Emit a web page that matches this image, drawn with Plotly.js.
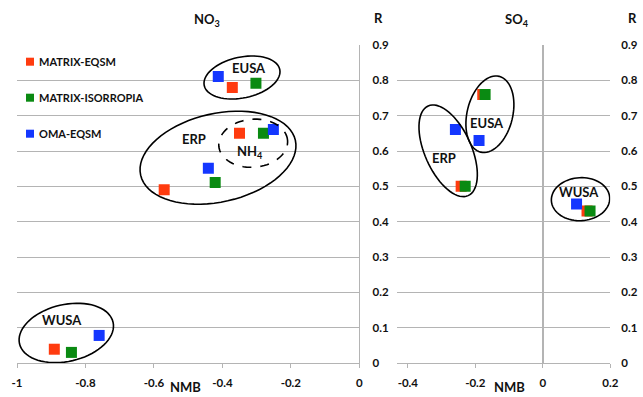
<!DOCTYPE html>
<html><head><meta charset="utf-8">
<script src="https://cdn.plot.ly/plotly-3.0.1.min.js"></script>
<style>html,body{margin:0;padding:0;background:#fff}#chart{width:643px;height:397px}</style>
</head><body><div id="chart"></div>
<script>
// ---- data ----
const seriesNames = ['MATRIX-EQSM', 'MATRIX-ISORROPIA', 'OMA-EQSM'];
const seriesColors = ['#ff3b0f', '#0a8a12', '#1437ff'];

const no3Groups = ['EUSA', 'ERP', 'NH4', 'WUSA'];
const no3NMB_matrixEqsm = [-0.371, -0.570, -0.350, -0.891];
const no3R_matrixEqsm   = [0.780, 0.490, 0.650, 0.039];
const no3NMB_matrixIso  = [-0.302, -0.421, -0.280, -0.841];
const no3R_matrixIso    = [0.792, 0.511, 0.650, 0.030];
const no3NMB_omaEqsm    = [-0.412, -0.441, -0.251, -0.760];
const no3R_omaEqsm      = [0.811, 0.551, 0.661, 0.078];

const so4Groups = ['EUSA', 'ERP', 'WUSA'];
const so4NMB_matrixEqsm = [-0.178, -0.242, 0.131];
const so4R_matrixEqsm   = [0.760, 0.500, 0.430];
const so4NMB_matrixIso  = [-0.171, -0.230, 0.140];
const so4R_matrixIso    = [0.760, 0.500, 0.430];
const so4NMB_omaEqsm    = [-0.189, -0.259, 0.100];
const so4R_omaEqsm      = [0.630, 0.661, 0.450];

const xTicksNO3 = [-1, -0.8, -0.6, -0.4, -0.2, 0];
const xTicksSO4 = [-0.4, -0.2, 0, 0.2];
const yTicks = [0, 0.1, 0.2, 0.3, 0.4, 0.5, 0.6, 0.7, 0.8, 0.9];

// ---- layout geometry ----
const W = 643, H = 397;
const xDom1 = [17 / W, 359.3 / W];
const xDom2 = [396.7 / W, 610.3 / W];
const yDom = [1 - 363 / H, 1 - 45 / H];
const xRange1 = [-1, 0];
const xRange2 = [-0.433, 0.2];
const yRange = [0, 0.9];

const FONT = 'Lato, "Open Sans", sans-serif';
const gridCol = '#b4b4b4';

const no3X = [no3NMB_matrixEqsm, no3NMB_matrixIso, no3NMB_omaEqsm];
const no3Y = [no3R_matrixEqsm, no3R_matrixIso, no3R_omaEqsm];
const so4X = [so4NMB_matrixEqsm, so4NMB_matrixIso, so4NMB_omaEqsm];
const so4Y = [so4R_matrixEqsm, so4R_matrixIso, so4R_omaEqsm];

const traces = [];
for (let i = 0; i < 3; i++) {
  traces.push({
    type: 'scatter', mode: 'markers', name: seriesNames[i],
    x: no3X[i], y: no3Y[i], text: no3Groups, xaxis: 'x', yaxis: 'y',
    legendgroup: 'g' + i, showlegend: false,
    marker: {symbol: 'square', size: 11, color: seriesColors[i], line: {width: 0}},
    hovertemplate: '%{text}<br>NMB %{x}<br>R %{y}<extra>' + seriesNames[i] + '</extra>'
  });
}
for (let i = 0; i < 3; i++) {
  traces.push({
    type: 'scatter', mode: 'markers', name: seriesNames[i],
    x: so4X[i], y: so4Y[i], text: so4Groups, xaxis: 'x2', yaxis: 'y2',
    legendgroup: 'g' + i, showlegend: false,
    marker: {symbol: 'square', size: 11, color: seriesColors[i], line: {width: 0}},
    hovertemplate: '%{text}<br>NMB %{x}<br>R %{y}<extra>' + seriesNames[i] + '</extra>'
  });
}

// ellipses: center in data units, semi-axes in px, angle in degrees (visual, CCW)
const pxPerX1 = (xDom1[1] - xDom1[0]) * W / (xRange1[1] - xRange1[0]);
const pxPerX2 = (xDom2[1] - xDom2[0]) * W / (xRange2[1] - xRange2[0]);
const pxPerY = (yDom[1] - yDom[0]) * H / (yRange[1] - yRange[0]);

const ellipses = [
  {ax: 'x', cx: -0.3427, cy: 0.808, a: 38.6, b: 20.4, ang: 12, dash: 'solid'},
  {ax: 'x', cx: -0.4128, cy: 0.581, a: 79.3, b: 44.2, ang: 12.7, dash: 'solid'},
  {ax: 'x', cx: -0.310, cy: 0.622, a: 34.5, b: 24, ang: 5, dash: 'dash'},
  {ax: 'x', cx: -0.856, cy: 0.085, a: 48, b: 28.4, ang: 13, dash: 'solid'},
  {ax: 'x2', cx: -0.2805, cy: 0.6006, a: 49.1, b: 23.3, ang: 114, dash: 'solid'},
  {ax: 'x2', cx: -0.1568, cy: 0.704, a: 39, b: 22.8, ang: 76.3, dash: 'solid'},
  {ax: 'x2', cx: 0.1118, cy: 0.4636, a: 29.2, b: 21.5, ang: 3, dash: 'solid'}
];
function ellipsePath(e) {
  const sx = e.ax === 'x' ? pxPerX1 : pxPerX2;
  const th = e.ang * Math.PI / 180;
  let p = '';
  const n = 72;
  for (let k = 0; k <= n; k++) {
    const t = 2 * Math.PI * k / n;
    const dx = e.a * Math.cos(t) * Math.cos(th) - e.b * Math.sin(t) * Math.sin(th);
    const dy = e.a * Math.cos(t) * Math.sin(th) + e.b * Math.sin(t) * Math.cos(th);
    const x = e.cx + dx / sx, y = e.cy + dy / pxPerY;
    p += (k === 0 ? 'M' : 'L') + x.toFixed(5) + ',' + y.toFixed(5);
  }
  return p + 'Z';
}
const shapes = ellipses.map(e => ({
  type: 'path', path: ellipsePath(e), xref: e.ax, yref: e.ax === 'x' ? 'y' : 'y2',
  line: {color: '#000', width: 1.6, dash: e.dash}, fillcolor: 'rgba(0,0,0,0)', layer: 'above'
}));

const regionLabels = [
  {ax: 'x', x: -0.3214, y: 0.834, t: 'EUSA'},
  {ax: 'x', x: -0.4829, y: 0.633, t: 'ERP'},
  {ax: 'x', x: -0.3193, y: 0.598, t: 'NH<sub>4</sub>'},
  {ax: 'x', x: -0.8677, y: 0.1217, t: 'WUSA'},
  {ax: 'x2', x: -0.1648, y: 0.678, t: 'EUSA'},
  {ax: 'x2', x: -0.2929, y: 0.579, t: 'ERP'},
  {ax: 'x2', x: 0.108, y: 0.483, t: 'WUSA'}
];
const bold = {family: FONT, size: 13, color: '#111', weight: 700};
const annotations = regionLabels.map(l => ({
  xref: l.ax, yref: l.ax === 'x' ? 'y' : 'y2', x: l.x, y: l.y, text: l.t,
  showarrow: false, font: bold, xanchor: 'center', yanchor: 'middle'
}));
function paperText(px, py, text, yanchor) {
  return {xref: 'paper', yref: 'paper', x: px / W, y: 1 - py / H, text: text, showarrow: false,
          font: bold, xanchor: 'center', yanchor: yanchor || 'middle'};
}
annotations.push(
  paperText(206.7, 20, 'NO<sub>3</sub>'),
  paperText(516.7, 20, 'SO<sub>4</sub>'),
  paperText(378, 18, 'R'),
  paperText(632, 18, 'R'),
  paperText(185.7, 397, 'NMB', 'bottom'),
  paperText(509.3, 397, 'NMB', 'bottom')
);

// legend (swatches + labels) drawn at the reference's position
const legendY = [61.7, 97.7, 133.7];
const legFont = {family: FONT, size: 11, color: '#111', weight: 700};
seriesNames.forEach((nm, i) => {
  shapes.push({type: 'rect', xref: 'paper', yref: 'paper',
    x0: 26 / W, x1: 34 / W, y0: 1 - (legendY[i] + 4) / H, y1: 1 - (legendY[i] - 4) / H,
    fillcolor: seriesColors[i], line: {width: 0}});
  annotations.push({xref: 'paper', yref: 'paper', x: 36.5 / W, y: 1 - legendY[i] / H, text: nm,
    showarrow: false, font: legFont, xanchor: 'left', yanchor: 'middle'});
});

const tickFont = {family: FONT, size: 11.5, color: '#111', weight: 700};
function xAxis(dom, range, ticks, anchor) {
  return {
    domain: dom, range: range, anchor: anchor, tickmode: 'array', tickvals: ticks,
    ticktext: ticks.map(v => String(v)),
    showgrid: false, showline: true, linecolor: gridCol, linewidth: 1,
    ticks: 'outside', ticklen: 4, tickcolor: gridCol, tickfont: tickFont,
    ticklabelstandoff: 5, fixedrange: true
  };
}
function yAxis(anchor) {
  return {
    domain: yDom, range: yRange, anchor: anchor, side: 'right', tickmode: 'array', tickvals: yTicks,
    ticktext: yTicks.map(v => String(v)),
    showgrid: true, gridcolor: gridCol, gridwidth: 1, zeroline: false,
    ticks: '', tickfont: tickFont, ticklabelstandoff: 10, fixedrange: true
  };
}
const layout = {
  width: W, height: H, margin: {l: 0, r: 0, t: 0, b: 0},
  paper_bgcolor: '#fff', plot_bgcolor: 'rgba(0,0,0,0)',
  font: {family: FONT},
  xaxis: Object.assign(xAxis(xDom1, xRange1, xTicksNO3, 'y'), {zeroline: false}),
  yaxis: Object.assign(yAxis('x'), {showline: true, linecolor: gridCol, linewidth: 1}),
  xaxis2: Object.assign(xAxis(xDom2, xRange2, xTicksSO4, 'y2'), {zeroline: true, zerolinecolor: gridCol, zerolinewidth: 1.5}),
  yaxis2: Object.assign(yAxis('x2'), {showline: false}),
  showlegend: false,
  shapes: shapes, annotations: annotations
};
Plotly.newPlot('chart', traces, layout, {displayModeBar: false, staticPlot: true});
</script></body></html>
